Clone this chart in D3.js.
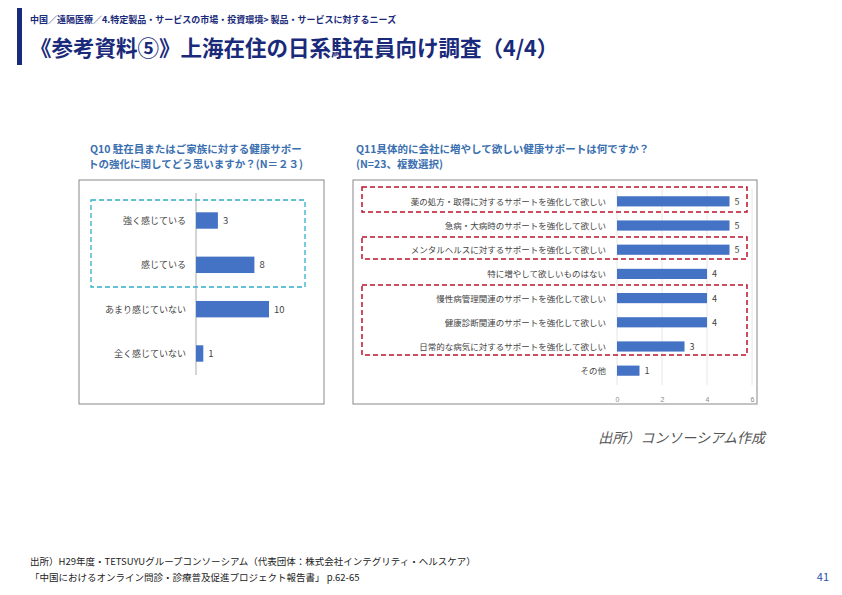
<!DOCTYPE html><html><head><meta charset="utf-8"><script src="https://cdn.jsdelivr.net/npm/d3@7"></script>
<style>body{margin:0;background:#fff}svg{font-family:"Noto Sans CJK JP","Noto Sans",sans-serif}</style></head><body><svg id="c" width="842" height="595"></svg>
<script>
const q10Cats=["強く感じている","感じている","あまり感じていない","全く感じていない"];
const q10Vals=[3,8,10,1];
const q11Cats=["薬の処方・取得に対するサポートを強化して欲しい","急病・大病時のサポートを強化して欲しい","メンタルヘルスに対するサポートを強化して欲しい","特に増やして欲しいものはない","慢性病管理関連のサポートを強化して欲しい","健康診断関連のサポートを強化して欲しい","日常的な病気に対するサポートを強化して欲しい","その他"];
const q11Vals=[5,5,5,4,4,4,3,1];
const q11Ticks=[0,2,4,6];
const svg=d3.select("#c");const navy="#1a2a7a",blue="#4472c4";
svg.append("rect").attr("x",17).attr("y",8).attr("width",5).attr("height",57).attr("fill",navy);
svg.append("text").attr("x",30).attr("y",23).attr("font-size",9).attr("font-weight","bold").attr("fill",navy).text("中国／遠隔医療／4.特定製品・サービスの市場・投資環境> 製品・サービスに対するニーズ");
svg.append("text").attr("x",30).attr("y",56).attr("font-size",21.5).attr("font-weight","bold").attr("fill",navy).text("《参考資料⑤》上海在住の日系駐在員向け調査（4/4）");
const tc="#3a6fb0";
svg.append("text").attr("x",90).attr("y",153).attr("font-size",10.5).attr("font-weight","bold").attr("fill",tc).text("Q10 駐在員またはご家族に対する健康サポー");
svg.append("text").attr("x",88).attr("y",168).attr("font-size",10.5).attr("font-weight","bold").attr("fill",tc).text("トの強化に関してどう思いますか？(N＝２３)");
svg.append("text").attr("x",356).attr("y",153).attr("font-size",10.5).attr("font-weight","bold").attr("fill",tc).text("Q11具体的に会社に増やして欲しい健康サポートは何ですか？");
svg.append("text").attr("x",356).attr("y",168).attr("font-size",10.5).attr("font-weight","bold").attr("fill",tc).text("(N=23、複数選択)");
svg.append("rect").attr("x",79).attr("y",180).attr("width",245).attr("height",224).attr("fill","none").attr("stroke","#888");
svg.append("rect").attr("x",353).attr("y",180).attr("width",404).attr("height",224).attr("fill","none").attr("stroke","#888");
const x1=d3.scaleLinear().domain([0,10]).range([196,269]);
const y1=d3.scaleBand().domain(q10Cats).range([199,375]).paddingInner(0.63).paddingOuter(0.3);
svg.append("line").attr("x1",196).attr("x2",196).attr("y1",193).attr("y2",375).attr("stroke","#aaa");
const g1=svg.append("g");
g1.selectAll("rect").data(q10Vals).join("rect").attr("x",x1(0)).attr("y",(d,i)=>y1(q10Cats[i])).attr("width",d=>x1(d)-x1(0)).attr("height",y1.bandwidth()).attr("fill",blue);
g1.selectAll(".v").data(q10Vals).join("text").attr("x",d=>x1(d)+5).attr("y",(d,i)=>y1(q10Cats[i])+y1.bandwidth()/2+3.5).attr("font-size",9.5).attr("fill","#444").text(d=>d);
g1.selectAll(".l").data(q10Cats).join("text").attr("x",186).attr("y",d=>y1(d)+y1.bandwidth()/2+3.5).attr("text-anchor","end").attr("font-size",9).attr("fill","#444").text(d=>d);
svg.append("rect").attr("x",91).attr("y",200).attr("width",214).attr("height",87).attr("fill","none").attr("stroke","#2fb0c8").attr("stroke-width",1.3).attr("stroke-dasharray","5,3");
const x2=d3.scaleLinear().domain([0,6]).range([617,752]);
const y2=d3.scaleBand().domain(q11Cats).range([189,383]).paddingInner(0.58).paddingOuter(0.3);
const g2=svg.append("g");
g2.selectAll(".gl").data(q11Ticks).join("line").attr("x1",d=>x2(d)).attr("x2",d=>x2(d)).attr("y1",189).attr("y2",385).attr("stroke","#e6e6e6");
svg.append("g").attr("transform","translate(0,394)").call(d3.axisBottom(x2).tickValues(q11Ticks).tickFormat(d3.format("d")).tickSize(0)).call(a=>a.select(".domain").remove()).selectAll("text").attr("font-size",7).attr("fill","#888");
g2.selectAll("rect").data(q11Vals).join("rect").attr("x",x2(0)).attr("y",(d,i)=>y2(q11Cats[i])).attr("width",d=>x2(d)-x2(0)).attr("height",y2.bandwidth()).attr("fill",blue);
g2.selectAll(".v").data(q11Vals).join("text").attr("x",d=>x2(d)+5).attr("y",(d,i)=>y2(q11Cats[i])+y2.bandwidth()/2+3.5).attr("font-size",9).attr("fill","#444").text(d=>d);
g2.selectAll(".l").data(q11Cats).join("text").attr("x",606).attr("y",d=>y2(d)+y2.bandwidth()/2+3.5).attr("text-anchor","end").attr("font-size",8.5).attr("fill","#444").text(d=>d);
[[187,25],[237,22],[285,70]].forEach(([y,h])=>svg.append("rect").attr("x",362).attr("y",y).attr("width",385).attr("height",h).attr("fill","none").attr("stroke","#c0102a").attr("stroke-width",1.5).attr("stroke-dasharray","5,3"));
svg.append("text").attr("x",765).attr("y",443).attr("text-anchor","end").attr("font-size",14).attr("font-style","italic").attr("fill","#555").text("出所）コンソーシアム作成");
svg.append("text").attr("x",30).attr("y",565).attr("font-size",9.5).attr("fill","#222").text("出所）H29年度・TETSUYUグループコンソーシアム（代表団体：株式会社インテグリティ・ヘルスケア）");
svg.append("text").attr("x",30).attr("y",581).attr("font-size",9.5).attr("fill","#222").text("「中国におけるオンライン問診・診療普及促進プロジェクト報告書」 p.62-65");
svg.append("text").attr("x",829).attr("y",581).attr("text-anchor","end").attr("font-size",11).attr("fill","#2b4fa8").text("41");
</script></body></html>
